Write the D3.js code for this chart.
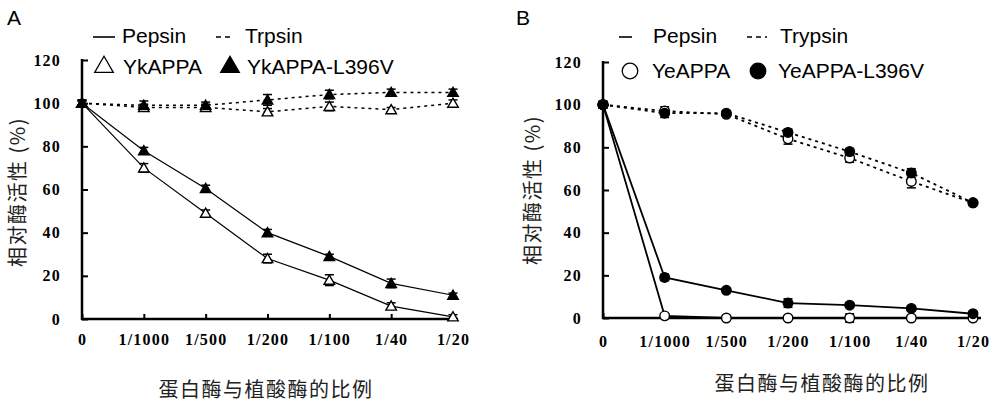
<!DOCTYPE html>
<html>
<head>
<meta charset="utf-8">
<script src="https://cdn.jsdelivr.net/npm/d3@7"></script>
<style>
  body { margin: 0; background: #fff; }
  svg { display: block; }
</style>
</head>
<body>
<div id="chart"></div>
<script>
// categories (protease : phytase ratio)
const ratios = ["0", "1/1000", "1/500", "1/200", "1/100", "1/40", "1/20"];
const yTicks = [0, 20, 40, 60, 80, 100, 120];

// panel A - YkAPPA
const a_pepsin_wt = [100, 70, 49, 28, 18, 6, 1];
const a_pepsin_wt_err = [1, 2, 1.5, 2, 2.5, 1.5, 1];
const a_pepsin_mut = [100, 78, 60.5, 40, 29, 16.5, 11];
const a_pepsin_mut_err = [1, 1.5, 1.5, 1.5, 1, 2, 1];
const a_trypsin_wt = [100, 98, 98, 96, 98.5, 97, 100];
const a_trypsin_wt_err = [1.5, 1.5, 1.5, 1.5, 2, 1, 1.5];
const a_trypsin_mut = [100, 99, 99, 101.5, 104, 105, 105];
const a_trypsin_mut_err = [1.5, 2, 1.5, 2.5, 2, 1.5, 1.5];

// panel B - YeAPPA
const b_pepsin_wt = [100, 1, 0, 0, 0, 0, 0];
const b_pepsin_wt_err = [1.5, 1, 1, 0.5, 2, 1, 0.5];
const b_pepsin_mut = [100, 19, 13, 7, 6, 4.5, 2];
const b_pepsin_mut_err = [1.5, 1.5, 1, 2, 1, 1, 1];
const b_trypsin_wt = [100, 97, 95.5, 84, 75, 64, 54];
const b_trypsin_wt_err = [1.5, 2, 1, 2.5, 2, 3, 1];
const b_trypsin_mut = [100, 96, 96, 87, 78, 68, 54];
const b_trypsin_mut_err = [1.5, 2, 1, 1.5, 1.5, 2, 1];

const svg = d3.select("#chart").append("svg")
    .attr("width", 1000)
    .attr("height", 404);

const tickFont = "'Liberation Serif', 'Times New Roman', serif";
const sansFont = "Arial, 'Liberation Sans', sans-serif";
const cjkFont = "'Noto Sans CJK SC', sans-serif";

function drawPanel(p) {
    const x = d3.scalePoint().domain(ratios).range([p.x0, p.x1]);
    const y = d3.scaleLinear().domain([0, 120]).range([p.y0, p.y1]);
    const g = svg.append("g");

    // axes
    const yAxis = g.append("g")
        .attr("transform", `translate(${p.x0},0)`)
        .call(d3.axisLeft(y).tickValues(yTicks).tickSizeInner(-6).tickSizeOuter(0).tickPadding(21));
    yAxis.select(".domain").remove();
    yAxis.selectAll(".tick line").attr("stroke-width", 2);
    yAxis.selectAll("text")
        .style("font-family", tickFont).style("font-weight", "bold")
        .style("font-size", "16px").style("letter-spacing", "1.2px")
        .attr("fill", "#000");

    const xAxis = g.append("g")
        .attr("transform", `translate(0,${p.y0})`)
        .call(d3.axisBottom(x).tickSizeInner(-5).tickSizeOuter(0).tickPadding(p.xPad));
    xAxis.select(".domain").remove();
    xAxis.selectAll(".tick line").attr("stroke-width", 2);
    xAxis.selectAll("text")
        .style("font-family", tickFont).style("font-weight", "bold")
        .style("font-size", "16px").style("letter-spacing", "1.2px")
        .attr("fill", "#000");

    g.append("line")
        .attr("x1", p.x0).attr("x2", p.x0)
        .attr("y1", y(120) - 1).attr("y2", p.y0 + 1)
        .attr("stroke", "#000").attr("stroke-width", 2.5);
    g.append("line")
        .attr("x1", p.x0 - 1).attr("x2", p.axisEnd)
        .attr("y1", p.y0).attr("y2", p.y0)
        .attr("stroke", "#000").attr("stroke-width", 2.5);

    const line = d3.line()
        .x((d, i) => x(ratios[i]))
        .y(d => y(d));

    // trypsin (dashed) then pepsin (solid)
    p.series.forEach(s => {
        g.append("path")
            .datum(s.values)
            .attr("d", line)
            .attr("fill", "none")
            .attr("stroke", "#000")
            .attr("stroke-width", s.dashed ? p.dashWidth : p.solidWidth)
            .attr("stroke-dasharray", s.dashed ? "3,4" : null);
    });

    // error bars
    p.series.forEach(s => {
        const eb = g.append("g");
        s.values.forEach((v, i) => {
            const cx = x(ratios[i]);
            const top = y(v + s.err[i]), bot = y(v - s.err[i]);
            eb.append("line").attr("x1", cx).attr("x2", cx).attr("y1", top).attr("y2", bot)
                .attr("stroke", "#000").attr("stroke-width", 1.5);
            [top, bot].forEach(yy => {
                eb.append("line").attr("x1", cx - 4.5).attr("x2", cx + 4.5).attr("y1", yy).attr("y2", yy)
                    .attr("stroke", "#000").attr("stroke-width", 1.5);
            });
        });
    });

    // markers
    const sym = d3.symbol().type(p.shape === "tri" ? d3.symbolTriangle : d3.symbolCircle)
        .size(p.shape === "tri" ? 48 : 72);
    p.series.forEach(s => {
        g.append("g").selectAll("path")
            .data(s.values)
            .join("path")
            .attr("d", sym)
            .attr("transform", (d, i) => `translate(${x(ratios[i])},${y(d) + (p.shape === "tri" ? 1 : 0)})`)
            .attr("fill", s.filled ? "#000" : "#fff")
            .attr("stroke", "#000")
            .attr("stroke-width", 1.4);
    });

    // legend
    const lg = g.append("g").style("font-family", sansFont).style("font-size", "21px").attr("fill", "#000");
    lg.append("line").attr("x1", p.leg.solid[0]).attr("x2", p.leg.solid[1])
        .attr("y1", 37).attr("y2", 37).attr("stroke", "#000").attr("stroke-width", 1.6);
    lg.append("text").attr("x", p.leg.pepsinX).attr("y", p.leg.row1).text("Pepsin");
    lg.append("line").attr("x1", p.leg.dash[0]).attr("x2", p.leg.dash[1])
        .attr("y1", 37).attr("y2", 37).attr("stroke", "#000").attr("stroke-width", 1.6)
        .attr("stroke-dasharray", "5,4");
    lg.append("text").attr("x", p.leg.trypsinX).attr("y", p.leg.row1).text(p.leg.trypsinName);

    const legSym = d3.symbol().type(p.shape === "tri" ? d3.symbolTriangle : d3.symbolCircle)
        .size(p.shape === "tri" ? 150 : 190);
    p.leg.items.forEach(it => {
        lg.append("path").attr("d", legSym)
            .attr("transform", `translate(${it.sx},${p.leg.symY})`)
            .attr("fill", it.filled ? "#000" : "#fff")
            .attr("stroke", "#000").attr("stroke-width", 1.3);
        lg.append("text").attr("x", it.tx).attr("y", p.leg.row2).text(it.label);
    });

    // panel letter
    svg.append("text").attr("x", p.letterX).attr("y", 25)
        .style("font-family", sansFont).style("font-size", "21px").text(p.letter);

    // axis titles
    svg.append("text")
        .attr("transform", `translate(${p.yTitleX},${p.yTitleY}) rotate(-90)`)
        .attr("text-anchor", "middle")
        .attr("dominant-baseline", "central")
        .style("font-family", cjkFont).style("font-size", "20px").style("letter-spacing", "1.5px")
        .attr("fill", "#222")
        .text("相对酶活性 (%)");
    svg.append("text")
        .attr("x", p.xTitleX).attr("y", p.xTitleY)
        .attr("text-anchor", "middle")
        .attr("dominant-baseline", "central")
        .style("font-family", cjkFont).style("font-size", "20px").style("letter-spacing", "1.5px")
        .attr("fill", "#222")
        .text("蛋白酶与植酸酶的比例");
}

drawPanel({
    letter: "A", letterX: 7,
    x0: 82, x1: 453, axisEnd: 458, y0: 319, y1: 60, xPad: 15, solidWidth: 1.2, dashWidth: 1.5,
    shape: "tri",
    series: [
        {values: a_trypsin_wt, err: a_trypsin_wt_err, dashed: true, filled: false},
        {values: a_trypsin_mut, err: a_trypsin_mut_err, dashed: true, filled: true},
        {values: a_pepsin_wt, err: a_pepsin_wt_err, dashed: false, filled: false},
        {values: a_pepsin_mut, err: a_pepsin_mut_err, dashed: false, filled: true}
    ],
    leg: {
        solid: [93, 115], dash: [216, 234], pepsinX: 122, trypsinX: 245, trypsinName: "Trpsin",
        row1: 43, row2: 74, symY: 67,
        items: [
            {sx: 104, tx: 123, label: "YkAPPA", filled: false},
            {sx: 230, tx: 247, label: "YkAPPA-L396V", filled: true}
        ]
    },
    yTitleX: 16, yTitleY: 192, xTitleX: 266, xTitleY: 388
});

drawPanel({
    letter: "B", letterX: 516,
    x0: 603, x1: 973, axisEnd: 981, y0: 318, y1: 62, xPad: 18, solidWidth: 1.8, dashWidth: 1.8,
    shape: "circle",
    series: [
        {values: b_trypsin_wt, err: b_trypsin_wt_err, dashed: true, filled: false},
        {values: b_trypsin_mut, err: b_trypsin_mut_err, dashed: true, filled: true},
        {values: b_pepsin_wt, err: b_pepsin_wt_err, dashed: false, filled: false},
        {values: b_pepsin_mut, err: b_pepsin_mut_err, dashed: false, filled: true}
    ],
    leg: {
        solid: [619, 632], dash: [747, 767], pepsinX: 653, trypsinX: 780, trypsinName: "Trypsin",
        row1: 43, row2: 78, symY: 71,
        items: [
            {sx: 630, tx: 652, label: "YeAPPA", filled: false},
            {sx: 758, tx: 778, label: "YeAPPA-L396V", filled: true}
        ]
    },
    yTitleX: 531, yTitleY: 190, xTitleX: 822, xTitleY: 382
});
</script>
</body>
</html>
